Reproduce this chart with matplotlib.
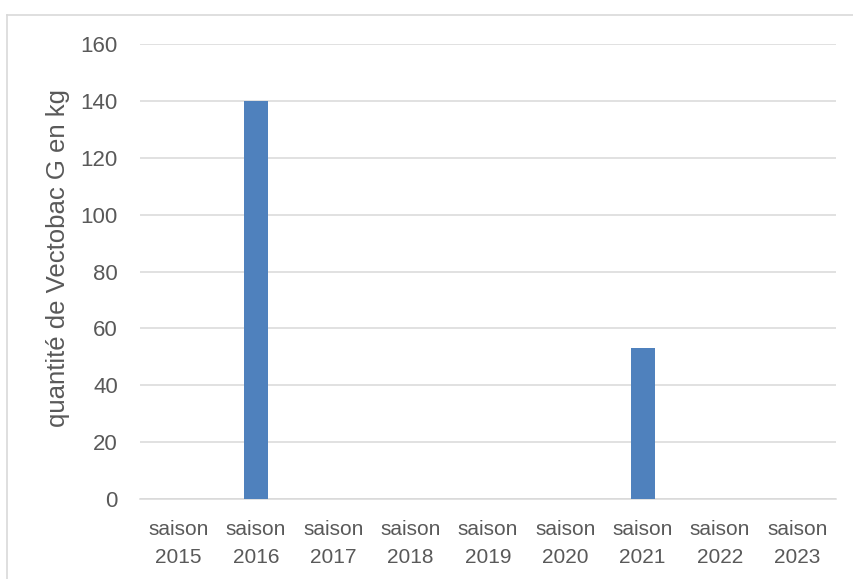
import numpy as np
import matplotlib
matplotlib.use('Agg')
import matplotlib.pyplot as plt
from matplotlib.lines import Line2D

# data
seasons = ['saison\n2015', 'saison\n2016', 'saison\n2017', 'saison\n2018', 'saison\n2019',
           'saison\n2020', 'saison\n2021', 'saison\n2022', 'saison\n2023']
quantities = [0, 140, 0, 0, 0, 0, 53, 0, 0]
yticks = [0, 20, 40, 60, 80, 100, 120, 140, 160]

plt.rcParams['font.family'] = ['Liberation Sans', 'DejaVu Sans']
TXT = '#595959'
GRID = '#D9D9D9'

fig = plt.figure(figsize=(8.54, 5.79), dpi=100)
ax = fig.add_axes([140/854, 1 - 499/579, 696/854, 455/579])

x = np.arange(len(seasons))
ax.bar(x, quantities, width=0.31, color='#4F81BD', zorder=3)

ax.set_xlim(-0.5, len(seasons) - 0.5)
ax.set_ylim(0, 160)
ax.set_yticks(yticks)
ax.set_xticks(x)
ax.set_xticklabels(seasons, fontsize=15, color=TXT, linespacing=1.6)
ax.tick_params(axis='y', labelsize=16, colors=TXT, length=0, pad=16)
ax.tick_params(axis='x', length=0, pad=15)
ax.grid(axis='y', color=GRID, lw=1.1, zorder=0)
for s in ['top', 'right', 'left']:
    ax.spines[s].set_visible(False)
ax.spines['bottom'].set_color(GRID)
ax.spines['bottom'].set_linewidth(1.1)

ax.set_ylabel('quantité de Vectobac G en kg', fontsize=18.5, color=TXT)
ax.yaxis.set_label_coords(-0.10, 0.53)

# chart border (left and top edges visible in the reference)
fig.add_artist(Line2D([7/854, 7/854], [0, 1 - 15/579], transform=fig.transFigure, color=GRID, lw=1.2))
fig.add_artist(Line2D([7/854, 1], [1 - 15/579, 1 - 15/579], transform=fig.transFigure, color=GRID, lw=1.2))

plt.savefig('out.png', dpi=100)
plt.close()
